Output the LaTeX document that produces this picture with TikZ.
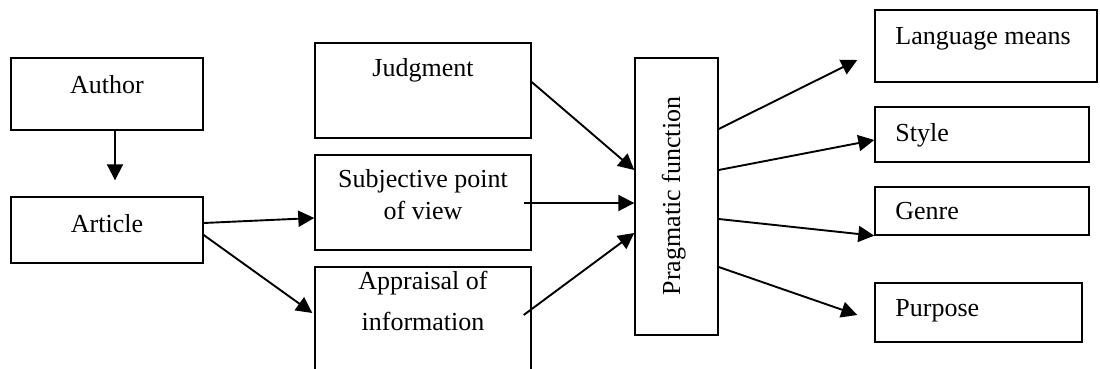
\documentclass[tikz,border=0pt]{standalone}
\usepackage{fontspec}
\setmainfont{Liberation Serif}
\usetikzlibrary{arrows.meta,calc}
\begin{document}
\begin{tikzpicture}[x=0.5pt,y=-0.5pt,
  box/.style={draw,line width=0.7pt,inner sep=0pt},
  lbl/.style={inner sep=0pt,anchor=base,font=\fontsize{13}{15}\selectfont},
  lbll/.style={lbl,anchor=base west},
  arr/.style={line width=0.95pt,-{Triangle[length=8pt,width=8pt]}}]
\clip (0,0) rectangle (1100,369);
\fill[white] (0,0) rectangle (1100,369);
% boxes
\node[box,minimum width=96pt,minimum height=36pt] (author) at (107,94) {};
\node[box,minimum width=96pt,minimum height=33pt] (article) at (107,230) {};
\node[box,minimum width=108pt,minimum height=47.5pt] (judg) at (423,90.5) {};
\node[box,minimum width=108pt,minimum height=47.5pt] (subj) at (423,202.5) {};
\node[box,minimum width=108pt,minimum height=62pt] (appr) at (423,329) {};
\node[box,minimum width=41.5pt,minimum height=138.5pt] (prag) at (676.5,196.5) {};
\node[box,minimum width=111pt,minimum height=36pt] (lang) at (986,46) {};
\node[box,minimum width=107pt,minimum height=27.5pt] (style) at (982,134.5) {};
\node[box,minimum width=107pt,minimum height=24pt] (genre) at (982,211) {};
\node[box,minimum width=103.5pt,minimum height=29.5pt] (purp) at (978.5,312.5) {};
% texts
\node[lbl] (tauthor) at (107,94) {Author};
\node[lbl] (tarticle) at (107,233) {Article};
\node[lbl] (tjudg) at (423,77) {Judgment};
\node[lbl] (tsubj1) at (423,188) {Subjective point};
\node[lbl] (tsubj2) at (423,220) {of view};
\node[lbl] (tappr1) at (423,290) {Appraisal of};
\node[lbl] (tappr2) at (423,330) {information};
\node[lbl,rotate=90] (tprag) at (680,196) {Pragmatic function};
\node[lbll] (tlang) at (895,45) {Language means};
\node[lbll] (tstyle) at (895,142) {Style};
\node[lbll] (tgenre) at (895,220) {Genre};
\node[lbll] (tpurp) at (895,317) {Purpose};
% arrows
\draw[arr,shorten >=8pt] (author.south -| 115,0) -- (article.north -| 115,0);
\draw[arr] (article.east |- 0,223) -- (subj.west |- 0,218);
\draw[arr] (article.east |- 0,235) -- ($(appr.west |- 0,313)+(-2,0)$);
\draw[arr] (judg.east |- 0,82) -- (prag.west |- 0,170);
\draw[arr] ($(subj.east)+(-8,0.5)$) -- (prag.west |- 0,203);
\draw[arr] ($(appr.east |- 0,315)+(-8,0)$) -- (prag.west |- 0,233);
\draw[arr] (prag.east |- 0,129) -- ($(lang.west)+(-17,14)$);
\draw[arr] (prag.east |- 0,170) -- (style.west |- 0,140);
\draw[arr] (prag.east |- 0,219) -- (genre.south west);
\draw[arr] (prag.east |- 0,267) -- ($(purp.west)+(-17,2.5)$);
\end{tikzpicture}
\end{document}
